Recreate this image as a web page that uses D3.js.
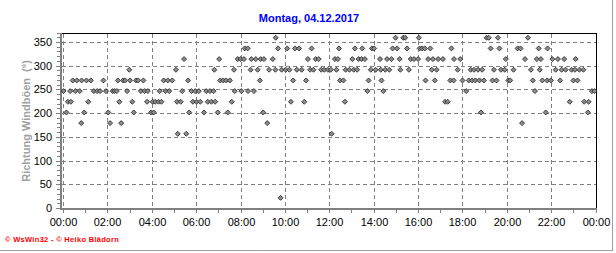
<!DOCTYPE html>
<html>
<head>
<meta charset="utf-8">
<script src="https://cdn.jsdelivr.net/npm/d3@7"></script>
<style>
  body { margin: 0; background: #fff; }
  svg { display: block; font-family: "Liberation Sans", Arial, sans-serif; }
</style>
</head>
<body>
<svg id="chart" width="616" height="253"></svg>
<script>
const title = "Montag, 04.12.2017";
const yLabel = "Richtung Windböen  (°)";
const footer = "© WsWin32 - © Heiko Blädorn";
const day = "2017-12-04";
const yTicks = [0, 50, 100, 150, 200, 250, 300, 350];
const xTicks = ["00:00", "02:00", "04:00", "06:00", "08:00", "10:00", "12:00",
  "14:00", "16:00", "18:00", "20:00", "22:00", "24:00"];

// gust direction readings [time, degrees]
const gusts = [
  ["00:00", 247.5], ["00:08", 202.5], ["00:12", 225], ["00:18", 247.5], ["00:20", 225],
  ["00:25", 270], ["00:32", 247.5], ["00:36", 270], ["00:44", 247.5], ["00:48", 180],
  ["00:49", 270], ["00:56", 202.5], ["01:02", 270], ["01:07", 225], ["01:14", 270],
  ["01:22", 247.5], ["01:31", 247.5], ["01:39", 247.5], ["01:48", 270], ["01:55", 247.5],
  ["02:01", 202.5], ["02:06", 180], ["02:13", 247.5], ["02:18", 247.5], ["02:24", 247.5],
  ["02:27", 270], ["02:31", 225], ["02:36", 180], ["02:41", 270], ["02:47", 270],
  ["02:52", 247.5], ["02:58", 292.5], ["03:00", 270], ["03:06", 225], ["03:10", 202.5],
  ["03:16", 270], ["03:22", 270], ["03:29", 247.5], ["03:36", 270], ["03:39", 247.5],
  ["03:46", 225], ["03:48", 247.5], ["03:57", 202.5], ["04:01", 225], ["04:04", 202.5],
  ["04:08", 225], ["04:17", 225], ["04:20", 247.5], ["04:25", 225], ["04:31", 270],
  ["04:36", 247.5], ["04:42", 270], ["04:46", 247.5], ["04:54", 270], ["05:04", 292.5],
  ["05:07", 225], ["05:09", 157.5], ["05:17", 225], ["05:21", 247.5], ["05:26", 315],
  ["05:32", 157.5], ["05:37", 270], ["05:40", 202.5], ["05:46", 247.5], ["05:50", 225],
  ["05:56", 247.5], ["06:00", 225], ["06:06", 247.5], ["06:10", 225], ["06:20", 202.5],
  ["06:26", 247.5], ["06:30", 225], ["06:36", 247.5], ["06:40", 225], ["06:46", 247.5],
  ["06:48", 292.5], ["06:50", 225], ["06:57", 202.5], ["07:01", 315], ["07:04", 270],
  ["07:12", 270], ["07:20", 270], ["07:24", 202.5], ["07:30", 270], ["07:35", 225],
  ["07:41", 292.5], ["07:43", 247.5], ["07:51", 315], ["07:59", 315], ["08:01", 247.5],
  ["08:08", 315], ["08:10", 337.5], ["08:18", 337.5], ["08:19", 247.5], ["08:26", 292.5],
  ["08:28", 315], ["08:35", 247.5], ["08:40", 315], ["08:45", 292.5], ["08:51", 270],
  ["08:53", 315], ["09:00", 202.5], ["09:02", 315], ["09:11", 180], ["09:16", 292.5],
  ["09:26", 315], ["09:33", 292.5], ["09:34", 360], ["09:40", 337.5], ["09:47", 22.5],
  ["09:50", 292.5], ["10:01", 292.5], ["10:05", 337.5], ["10:11", 292.5], ["10:15", 225],
  ["10:21", 270], ["10:26", 337.5], ["10:31", 292.5], ["10:37", 337.5], ["10:44", 292.5],
  ["10:51", 225], ["10:56", 270], ["11:01", 315], ["11:07", 292.5], ["11:11", 337.5],
  ["11:16", 292.5], ["11:22", 315], ["11:30", 315], ["11:37", 292.5], ["11:45", 292.5],
  ["11:55", 292.5], ["12:03", 292.5], ["12:05", 157.5], ["12:14", 315], ["12:18", 292.5],
  ["12:22", 315], ["12:25", 337.5], ["12:28", 270], ["12:37", 270], ["12:41", 225],
  ["12:43", 292.5], ["12:53", 292.5], ["13:01", 315], ["13:05", 292.5], ["13:08", 337.5],
  ["13:14", 292.5], ["13:18", 315], ["13:26", 315], ["13:28", 337.5], ["13:35", 315],
  ["13:42", 247.5], ["13:45", 270], ["13:51", 292.5], ["13:54", 337.5], ["14:00", 337.5],
  ["14:04", 292.5], ["14:16", 315], ["14:18", 292.5], ["14:20", 270], ["14:25", 247.5],
  ["14:30", 292.5], ["14:35", 315], ["14:41", 292.5], ["14:47", 315], ["14:50", 337.5],
  ["14:58", 360], ["15:02", 337.5], ["15:09", 315], ["15:11", 292.5], ["15:19", 360],
  ["15:24", 360], ["15:29", 337.5], ["15:34", 292.5], ["15:39", 315], ["15:48", 315],
  ["15:59", 315], ["16:01", 360], ["16:03", 337.5], ["16:10", 337.5], ["16:17", 337.5],
  ["16:19", 270], ["16:26", 315], ["16:32", 337.5], ["16:36", 292.5], ["16:39", 315],
  ["16:44", 270], ["16:49", 292.5], ["16:53", 315], ["17:06", 315], ["17:12", 225],
  ["17:19", 225], ["17:26", 270], ["17:29", 337.5], ["17:35", 270], ["17:36", 315],
  ["17:46", 292.5], ["17:53", 315], ["17:59", 270], ["18:09", 247.5], ["18:16", 270],
  ["18:21", 292.5], ["18:25", 270], ["18:30", 292.5], ["18:34", 270], ["18:41", 292.5],
  ["18:45", 270], ["18:49", 202.5], ["18:52", 292.5], ["18:57", 270], ["19:04", 360],
  ["19:10", 360], ["19:15", 337.5], ["19:20", 270], ["19:24", 292.5], ["19:31", 270],
  ["19:35", 360], ["19:39", 337.5], ["19:43", 292.5], ["19:53", 292.5], ["19:56", 315],
  ["20:03", 270], ["20:08", 270], ["20:17", 292.5], ["20:28", 337.5], ["20:36", 337.5],
  ["20:40", 180], ["20:48", 315], ["20:56", 360], ["21:04", 292.5], ["21:09", 270],
  ["21:15", 247.5], ["21:20", 315], ["21:25", 337.5], ["21:28", 292.5], ["21:31", 315],
  ["21:35", 270], ["21:44", 202.5], ["21:48", 270], ["21:49", 337.5], ["21:58", 270],
  ["22:02", 315], ["22:11", 292.5], ["22:17", 315], ["22:23", 270], ["22:27", 292.5],
  ["22:34", 315], ["22:38", 292.5], ["22:49", 225], ["22:54", 292.5], ["22:59", 270],
  ["23:03", 292.5], ["23:05", 315], ["23:10", 270], ["23:15", 292.5], ["23:26", 292.5],
  ["23:28", 225], ["23:38", 202.5], ["23:40", 225], ["23:49", 247.5], ["23:56", 247.5]
];

const parse = d3.utcParse("%Y-%m-%d %H:%M");
const t0 = parse(day + " 00:00");
const t1 = d3.utcDay.offset(t0, 1);
const toTime = s => s === "24:00" ? t1 : parse(day + " " + s);

const svg = d3.select("#chart");

const x = d3.scaleUtc().domain([t0, t1]).range([63.5, 596]);
const y = d3.scaleLinear().domain([0, 370]).range([208.5, 33]);
const px = v => Math.floor(v) + 0.5;

// outer panel edge
svg.append("line").attr("x1", 0).attr("x2", 613).attr("y1", 250.5).attr("y2", 250.5)
  .attr("stroke", "#a0a0a0");
svg.append("line").attr("x1", 612.5).attr("x2", 612.5).attr("y1", 0).attr("y2", 251)
  .attr("stroke", "#a0a0a0");

// title
svg.append("text")
  .attr("x", 309).attr("y", 22)
  .attr("text-anchor", "middle")
  .attr("font-size", 11).attr("font-weight", "bold")
  .attr("fill", "#0000ff")
  .text(title);

// grid
const grid = svg.append("g").attr("stroke", "#808080").attr("stroke-dasharray", "4,3");
grid.selectAll("line.h").data(yTicks.filter(d => d > 0)).join("line")
  .attr("class", "h")
  .attr("x1", 62).attr("x2", 596)
  .attr("y1", d => px(y(d))).attr("y2", d => px(y(d)));
grid.selectAll("line.v").data(xTicks.map(toTime)).join("line")
  .attr("class", "v")
  .attr("y1", 34).attr("y2", 208)
  .attr("x1", d => px(x(d))).attr("x2", d => px(x(d)));

// frame: black top/right, gray left/bottom axes
svg.append("line").attr("x1", 61).attr("x2", 597).attr("y1", 33.5).attr("y2", 33.5)
  .attr("stroke", "#000");
svg.append("line").attr("x1", 596.5).attr("x2", 596.5).attr("y1", 33).attr("y2", 209)
  .attr("stroke", "#000");
svg.append("line").attr("x1", 61).attr("x2", 61).attr("y1", 33).attr("y2", 210)
  .attr("stroke", "#808080").attr("stroke-width", 2);
svg.append("line").attr("x1", 60).attr("x2", 597).attr("y1", 209).attr("y2", 209)
  .attr("stroke", "#808080").attr("stroke-width", 2);

// y axis ticks
const yMinor = svg.append("g").attr("transform", "translate(60,0)")
  .call(d3.axisLeft(y).ticks(37).tickSize(3).tickFormat(""));
const yMajor = svg.append("g").attr("transform", "translate(60,0)")
  .call(d3.axisLeft(y).tickValues(yTicks).tickSize(4).tickPadding(4));
[yMinor, yMajor].forEach(g => {
  g.select(".domain").remove();
  g.selectAll(".tick").attr("transform", d => `translate(0,${px(y(d))})`);
  g.selectAll(".tick line").attr("stroke", "#808080");
});
yMajor.selectAll(".tick text")
  .attr("font-size", 11).attr("font-family", "Liberation Sans, Arial, sans-serif")
  .attr("fill", "#000");

// x axis ticks
const xMinor = svg.append("g").attr("transform", "translate(0,210)")
  .call(d3.axisBottom(x).ticks(d3.utcHour.every(1)).tickSize(3).tickFormat(""));
const xMajor = svg.append("g").attr("transform", "translate(0,210)")
  .call(d3.axisBottom(x).tickValues(xTicks.map(toTime)).tickSize(3)
    .tickFormat(d3.utcFormat("%H:%M")));
[xMinor, xMajor].forEach(g => {
  g.select(".domain").remove();
  g.selectAll(".tick").attr("transform", d => `translate(${px(x(d))},0)`);
  g.selectAll(".tick line").attr("stroke", "#808080");
});
xMajor.selectAll(".tick text")
  .attr("y", 16).attr("dy", 0)
  .attr("font-size", 11).attr("font-family", "Liberation Sans, Arial, sans-serif")
  .attr("fill", "#000");

// y label
svg.append("text")
  .attr("transform", "translate(30,121) rotate(-90)")
  .attr("text-anchor", "middle")
  .attr("font-size", 11).attr("font-weight", "bold")
  .attr("fill", "#a0a0a0")
  .style("white-space", "pre")
  .text(yLabel);

// points
svg.append("g").selectAll("path").data(gusts).join("path")
  .attr("transform", d => `translate(${x(toTime(d[0]))},${y(d[1])})`)
  .attr("d", "M0,-2.5L2.5,0L0,2.5L-2.5,0Z")
  .attr("fill", "#8c8c8c")
  .attr("stroke", "#303030")
  .attr("stroke-width", 0.9);

// footer
svg.append("text")
  .attr("x", 5).attr("y", 242)
  .attr("font-size", 7.5).attr("font-weight", "bold")
  .attr("letter-spacing", 0.3)
  .attr("fill", "#ff0000")
  .text(footer);
</script>
</body>
</html>
